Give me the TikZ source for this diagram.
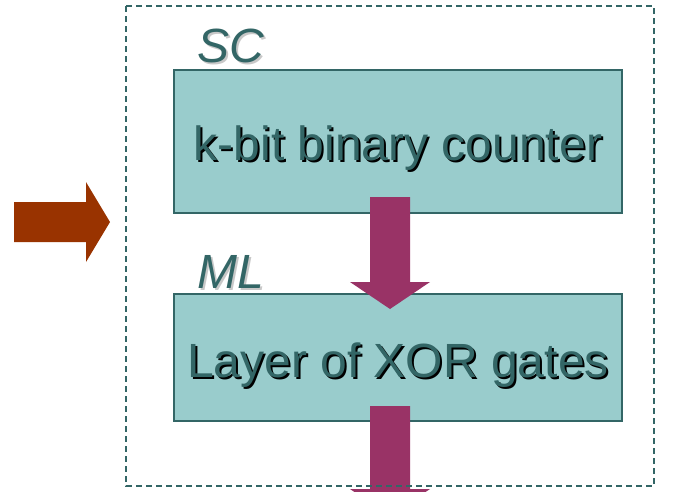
\documentclass[tikz,border=0pt]{standalone}
\usepackage{fontspec}
\setmainfont{Liberation Sans}
\definecolor{boxfill}{HTML}{99CCCC}
\definecolor{tealdark}{HTML}{336666}
\definecolor{rust}{HTML}{993300}
\definecolor{plum}{HTML}{993366}
\definecolor{softshadow}{HTML}{C8C8C8}
% text with a copy of itself offset down and right as a shadow
\newcommand{\shadowed}[2]{\makebox[0pt][l]{\kern2pt\raisebox{-2pt}{\color{#1}#2}}#2}
\tikzset{
  blockbox/.style={draw=tealdark, fill=boxfill, line width=2pt},
  frame/.style={draw=tealdark, line width=2pt, dash pattern=on 6pt off 4pt},
  bigtext/.style={font=\fontsize{48}{48}\selectfont, text=tealdark, inner sep=0pt, anchor=base},
  tagtext/.style={font=\fontsize{48}{48}\selectfont\itshape, text=tealdark, inner sep=0pt, anchor=base west},
}
\begin{document}
\begin{tikzpicture}[x=1pt, y=-1pt]
\useasboundingbox (0,0) rectangle (677,491);

% the two stages
\draw[blockbox] (174,70) rectangle (622,213);
\draw[blockbox] (174,294) rectangle (622,421);

% stage titles
\node[tagtext] (sc) at (197,62) {\shadowed{softshadow}{SC}};
\node[tagtext] (ml) at (197,288) {\shadowed{softshadow}{ML}};

% stage contents
\node[bigtext] (counter) at (398,160) {\shadowed{black}{k-bit binary counter}};
\node[bigtext] (xor) at (398,377) {\shadowed{black}{Layer of XOR gates}};

% input arrow
\fill[rust] (14,202) -- (86,202) -- (86,182) -- (110,222) -- (86,262) -- (86,242) -- (14,242) -- cycle;

% arrow from counter to XOR layer
\fill[plum] (370,197) -- (410,197) -- (410,282) -- (430,282) -- (390,309) -- (350,282) -- (370,282) -- cycle;

% output arrow leaving the frame
\fill[plum] (370,406) -- (410,406) -- (410,489) -- (430,489) -- (390,516) -- (350,489) -- (370,489) -- cycle;

% dashed enclosing frame
\draw[frame] (126,6) rectangle (654,486);
\end{tikzpicture}
\end{document}
